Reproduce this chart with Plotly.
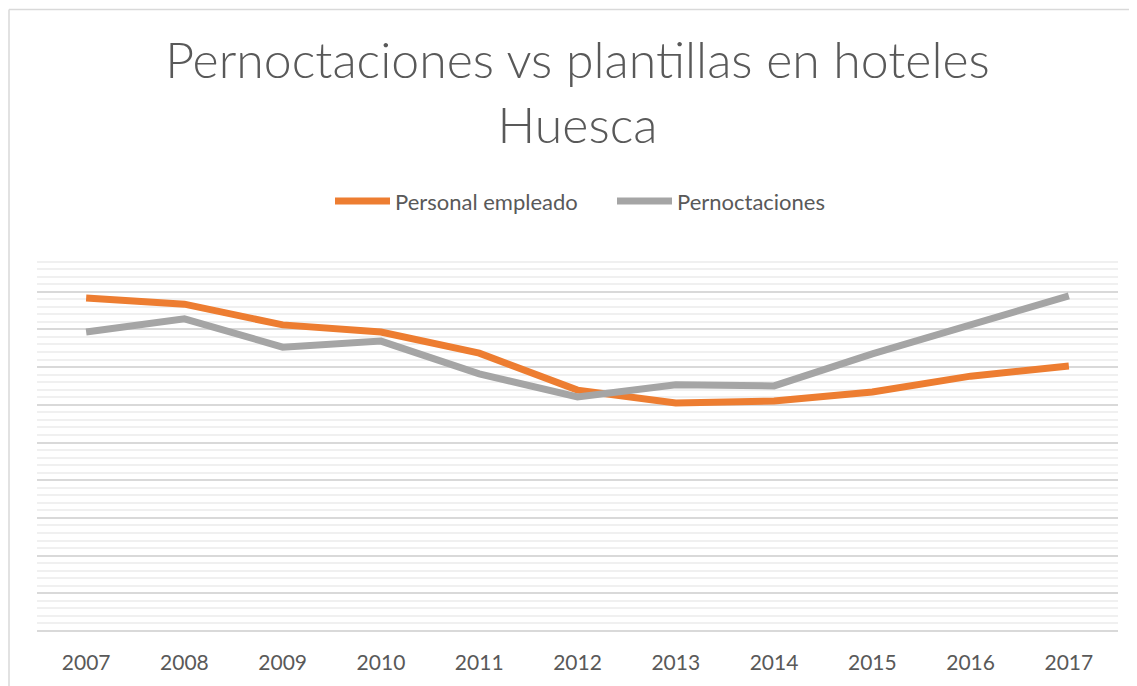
import plotly.graph_objects as go

years = ["2007", "2008", "2009", "2010", "2011", "2012", "2013", "2014", "2015", "2016", "2017"]
personal_empleado = [8.83, 8.67, 8.12, 7.93, 7.37, 6.39, 6.05, 6.10, 6.34, 6.76, 7.03]
pernoctaciones = [7.93, 8.28, 7.53, 7.69, 6.82, 6.21, 6.53, 6.50, 7.35, 8.14, 8.89]
series_names = ["Personal empleado", "Pernoctaciones"]
series_colors = ["#ED7D31", "#A5A5A5"]

TXT = "#595959"
FONT = "Lato"

fig = go.Figure()
for name, vals, col in zip(series_names, [personal_empleado, pernoctaciones], series_colors):
    fig.add_trace(go.Scatter(x=years, y=vals, mode="lines", name=name,
                             line=dict(color=col, width=7), showlegend=False))

# page offset of 8px (body margin); plot area in page px: x 37..1118, y 254..631
def px_x(p):
    return (p - 37) / 1081.0

def px_y(p):
    return (631 - p) / 377.0

border = dict(color="#d9d9d9", width=1.5)
shapes = [
    dict(type="line", xref="paper", yref="paper", x0=px_x(9), x1=px_x(1137),
         y0=px_y(9.5), y1=px_y(9.5), line=border, layer="below"),
    dict(type="line", xref="paper", yref="paper", x0=px_x(9), x1=px_x(9),
         y0=px_y(9.5), y1=px_y(686), line=border, layer="below"),
]
annotations = []
legend_pos = [(335, 390, 393), (617, 672, 675)]
for (lx0, lx1, tx), name, col in zip(legend_pos, series_names, series_colors):
    shapes.append(dict(type="line", xref="paper", yref="paper",
                       x0=px_x(lx0), x1=px_x(lx1), y0=px_y(201), y1=px_y(201),
                       line=dict(color=col, width=7)))
    annotations.append(dict(text=name, xref="paper", yref="paper", x=px_x(tx), y=px_y(201),
                            xanchor="left", yanchor="middle", showarrow=False,
                            font=dict(family=FONT, size=22, color=TXT)))

fig.update_layout(
    width=1129, height=678,
    margin=dict(l=29, r=19, t=246, b=55),
    paper_bgcolor="white", plot_bgcolor="white",
    font=dict(family=FONT, color=TXT),
    title=dict(text="Pernoctaciones vs plantillas en hoteles<br>Huesca",
               x=0.5, xref="paper", xanchor="center",
               y=(678 - 70) / 678, yref="container", yanchor="top",
               font=dict(family=FONT, size=50, color=TXT, weight=300)),
    showlegend=False,
    xaxis=dict(type="category", range=[-0.5, 10.5], showgrid=False, zeroline=False,
               showline=False, ticks="outside", ticklen=13, tickcolor="rgba(0,0,0,0)",
               tickfont=dict(family=FONT, size=21, color=TXT)),
    yaxis=dict(range=[0, 10], dtick=1, showticklabels=False, showgrid=True,
               gridcolor="#d9d9d9", gridwidth=1.5, zeroline=True, zerolinecolor="#d9d9d9",
               zerolinewidth=1.5, showline=False,
               minor=dict(dtick=0.2, showgrid=True, gridcolor="#f0f0f0", gridwidth=1.5)),
    shapes=shapes,
    annotations=annotations,
)

fig.write_html("out.html")
